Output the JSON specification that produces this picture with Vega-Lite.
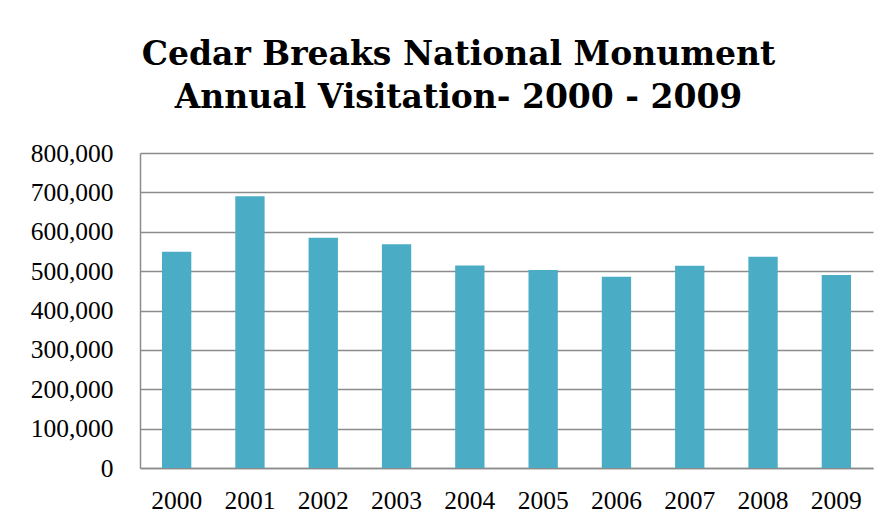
{
  "$schema": "https://vega.github.io/schema/vega-lite/v6.json",
  "width": 733,
  "height": 315,
  "autosize": {"type": "none"},
  "padding": {"left": 140, "top": 153, "right": 19, "bottom": 59},
  "background": "white",
  "title": {
    "text": ["Cedar Breaks National Monument", "Annual Visitation- 2000 - 2009"],
    "font": "DejaVu Serif",
    "fontSize": 33,
    "fontWeight": "bold",
    "color": "#000000",
    "anchor": "middle",
    "frame": "group",
    "dx": -48,
    "offset": 26,
    "lineHeight": 43,
    "baseline": "top"
  },
  "data": {
    "values": [
      {"year": "2000", "visits": 549000},
      {"year": "2001", "visits": 690000},
      {"year": "2002", "visits": 585000},
      {"year": "2003", "visits": 568000},
      {"year": "2004", "visits": 514000},
      {"year": "2005", "visits": 503000},
      {"year": "2006", "visits": 486000},
      {"year": "2007", "visits": 513500},
      {"year": "2008", "visits": 536500},
      {"year": "2009", "visits": 490000}
    ]
  },
  "mark": {"type": "bar", "color": "#4BACC6"},
  "encoding": {
    "x": {
      "field": "year",
      "type": "nominal",
      "scale": {"paddingInner": 0.6, "paddingOuter": 0.3},
      "axis": {
        "title": null,
        "labelAngle": 0,
        "labelFont": "Liberation Serif",
        "labelFontSize": 25.5,
        "labelColor": "#000000",
        "labelPadding": 20,
        "ticks": false,
        "domainColor": "#8c8c8c",
        "domainWidth": 1.5
      }
    },
    "y": {
      "field": "visits",
      "type": "quantitative",
      "scale": {"domain": [0, 800000]},
      "axis": {
        "title": null,
        "values": [0, 100000, 200000, 300000, 400000, 500000, 600000, 700000, 800000],
        "format": ",d",
        "labelFont": "Liberation Serif",
        "labelFontSize": 25.5,
        "labelColor": "#000000",
        "labelPadding": 27,
        "ticks": false,
        "grid": true,
        "gridColor": "#8c8c8c",
        "gridWidth": 1.5,
        "domainColor": "#8c8c8c",
        "domainWidth": 1.5
      }
    }
  },
  "config": {
    "view": {"stroke": null}
  }
}
